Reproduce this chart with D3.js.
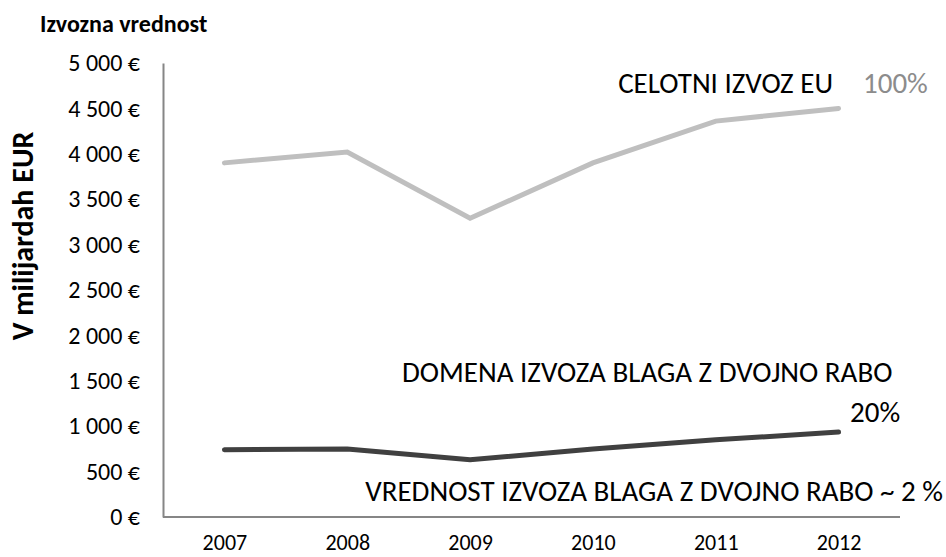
<!DOCTYPE html>
<html>
<head>
<meta charset="utf-8">
<script src="https://cdn.jsdelivr.net/npm/d3@7"></script>
<style>
	body { margin: 0; background: #fff; }
	text { font-family: Carlito, Lato, "Liberation Sans", sans-serif; }
</style>
</head>
<body>
<script>
var years = ["2007", "2008", "2009", "2010", "2011", "2012"];
var totalEU = [3900, 4020, 3290, 3900, 4360, 4500];
var dualUse = [740, 750, 630, 750, 850, 935];
var yTicks = [0, 500, 1000, 1500, 2000, 2500, 3000, 3500, 4000, 4500, 5000];

var width = 946;
var height = 557;
var marginLeft = 163;
var marginRight = 46;
var marginTop = 63;
var marginBottom = 40;

var svg = d3.select("body")
	.append("svg")
	.attr("width", width)
	.attr("height", height);

var x = d3.scalePoint()
	.domain(years)
	.range([marginLeft, width - marginRight])
	.padding(0.5);

var y = d3.scaleLinear()
	.domain([0, 5000])
	.range([height - marginBottom, marginTop]);

function fmt(v) {
	return d3.format(",")(v).replace(/,/g, " ") + " €";
}

// y axis
var yAxis = svg.append("g")
	.attr("transform", "translate(" + marginLeft + ",0)")
	.call(d3.axisLeft(y).tickValues(yTicks).tickFormat(fmt).tickSize(0).tickPadding(23));
yAxis.select(".domain").attr("stroke", "#868686").attr("stroke-width", 2);
yAxis.selectAll("text").style("font-size", "24px").attr("fill", "#000");

// x axis
var xAxis = svg.append("g")
	.attr("transform", "translate(0," + (height - marginBottom) + ")")
	.call(d3.axisBottom(x).tickSize(0).tickPadding(17));
xAxis.select(".domain").attr("stroke", "#868686").attr("stroke-width", 2)
	.attr("d", "M" + marginLeft + ",0H" + (width - marginRight));
xAxis.selectAll("text").style("font-size", "22px").attr("fill", "#000");

var line = d3.line()
	.x((d, i) => x(years[i]))
	.y((d) => y(d));

svg.append("path")
	.datum(totalEU)
	.attr("d", line)
	.attr("fill", "none")
	.attr("stroke", "#bfbfbf")
	.attr("stroke-width", 5)
	.attr("stroke-linecap", "round");

svg.append("path")
	.datum(dualUse)
	.attr("d", line)
	.attr("fill", "none")
	.attr("stroke", "#404040")
	.attr("stroke-width", 5)
	.attr("stroke-linecap", "round");

// titles
svg.append("text")
	.attr("x", 40)
	.attr("y", 32)
	.style("font-size", "24px")
	.style("font-weight", "bold")
	.text("Izvozna vrednost");

svg.append("text")
	.attr("transform", "translate(33,236) rotate(-90)")
	.attr("text-anchor", "middle")
	.style("font-size", "30px")
	.style("font-weight", "bold")
	.text("V milijardah EUR");

// annotations
svg.append("text")
	.attr("x", 833)
	.attr("y", 93)
	.attr("text-anchor", "end")
	.style("font-size", "29px")
	.text("CELOTNI IZVOZ EU");

svg.append("text")
	.attr("x", 863)
	.attr("y", 93)
	.attr("fill", "#8c8c8c")
	.style("font-size", "29px")
	.text("100%");

svg.append("text")
	.attr("x", 402)
	.attr("y", 382)
	.style("font-size", "29px")
	.text("DOMENA IZVOZA BLAGA Z DVOJNO RABO");

svg.append("text")
	.attr("x", 850)
	.attr("y", 422)
	.style("font-size", "29px")
	.text("20%");

svg.append("text")
	.attr("x", 943)
	.attr("y", 501)
	.attr("text-anchor", "end")
	.style("font-size", "29px")
	.text("VREDNOST IZVOZA BLAGA Z DVOJNO RABO ~ 2 %");
</script>
</body>
</html>
